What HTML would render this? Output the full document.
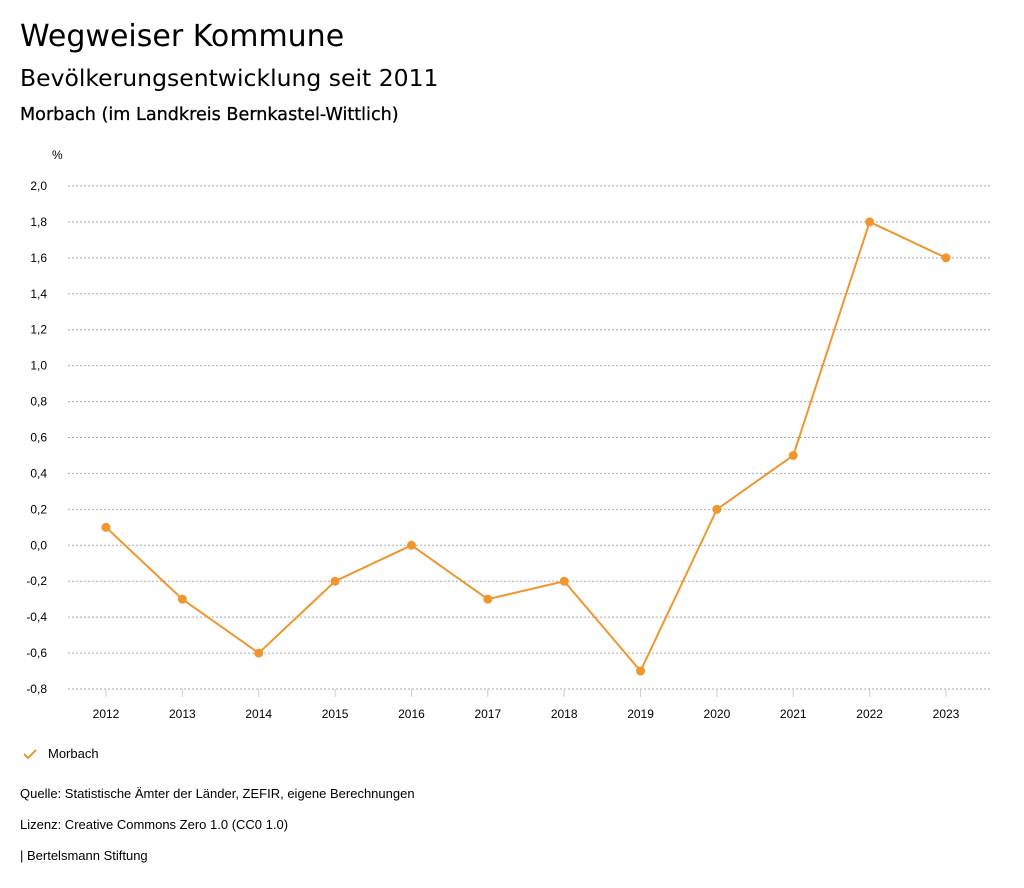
<!DOCTYPE html>
<html><head><meta charset="utf-8"><style>
body{margin:0;background:#fff;font-family:"Liberation Sans",sans-serif;color:#000}
.t{position:absolute;left:20px;white-space:nowrap}
</style></head><body>
<div style="position:relative;width:1024px;height:888px;overflow:hidden">
<div class="t" style="top:19px;font-size:30px;font-family:'DejaVu Sans',sans-serif">Wegweiser Kommune</div>
<div class="t" style="top:64px;font-size:23.5px;font-family:'DejaVu Sans',sans-serif">Bevölkerungsentwicklung seit 2011</div>
<div class="t" style="top:105px;font-size:17.6px;font-family:'DejaVu Sans',sans-serif;-webkit-text-stroke:0.3px #000">Morbach (im Landkreis Bernkastel-Wittlich)</div>
<svg id="c" width="1024" height="740" style="position:absolute;left:0;top:0"></svg>
<svg style="position:absolute;left:22px;top:747px" width="16" height="14"><path d="M2 7 L6 11 L14 3" fill="none" stroke="#f0962e" stroke-width="2"/></svg>
<div class="t" style="left:48px;top:746px;font-size:13px">Morbach</div>
<div class="t" style="top:786px;font-size:13px">Quelle: Statistische Ämter der Länder, ZEFIR, eigene Berechnungen</div>
<div class="t" style="top:817px;font-size:13px">Lizenz: Creative Commons Zero 1.0 (CC0 1.0)</div>
<div class="t" style="top:848px;font-size:13px">| Bertelsmann Stiftung</div>
</div>
<script>
const years=["2012","2013","2014","2015","2016","2017","2018","2019","2020","2021","2022","2023"];
const values=[0.1,-0.3,-0.6,-0.2,0.0,-0.3,-0.2,-0.7,0.2,0.5,1.8,1.6];
const yTicks=[2.0,1.8,1.6,1.4,1.2,1.0,0.8,0.6,0.4,0.2,0.0,-0.2,-0.4,-0.6,-0.8];
const svg=document.getElementById('c');const NS='http://www.w3.org/2000/svg';
const y=v=>186+(2.0-v)/2.8*503;
const x=i=>106+i*(946-106)/11;
function mk(t,a){const e=document.createElementNS(NS,t);for(const k in a)e.setAttribute(k,a[k]);svg.appendChild(e);return e;}
let u=mk('text',{x:52,y:159,'font-size':12,fill:'#000'});u.textContent='%';


yTicks.forEach(v=>{
 const g=mk('line',{x1:68,x2:990,y1:y(v),y2:y(v),stroke:'#aaa','stroke-dasharray':'2,2'});
 
 
 const t=mk('text',{x:47,y:y(v)+4,'text-anchor':'end','font-size':12,fill:'#000'});
 t.textContent=v.toFixed(1).replace('.',',');
 
 
});
years.forEach((yr,i)=>{
 const l=mk('line',{x1:x(i),x2:x(i),y1:689,y2:697,stroke:'#ccc'});
 
 
 const t=mk('text',{x:x(i),y:718,'text-anchor':'middle','font-size':12,fill:'#000'});
 t.textContent=yr;
 
 
});
const p=mk('polyline',{points:values.map((v,i)=>x(i)+','+y(v)).join(' '),fill:'none',stroke:'#f0962e','stroke-width':2});


values.forEach((v,i)=>{
 const c=mk('circle',{cx:x(i),cy:y(v),r:4.5,fill:'#f0962e'});
 
 
});
</script>
</body></html>
